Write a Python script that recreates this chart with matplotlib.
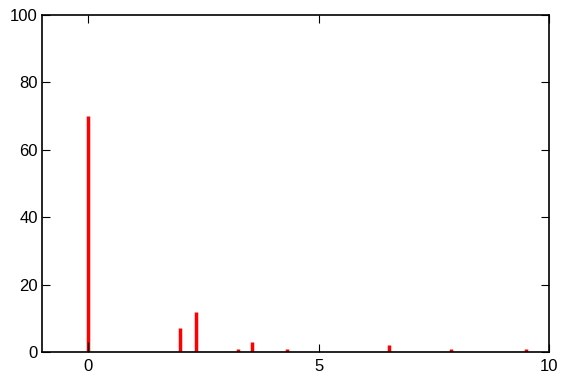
import matplotlib
matplotlib.use("Agg")
import matplotlib.pyplot as plt

plt.rcParams["font.family"] = ["Liberation Sans", "DejaVu Sans"]
plt.rcParams["font.size"] = 12

# stem positions and heights
positions = [0, 2.0, 2.34, 3.26, 3.56, 4.32, 6.53, 7.88, 9.5]
heights = [70, 7, 12, 1, 3, 1, 2, 1, 1]

fig = plt.figure(figsize=(5.61, 3.73), dpi=100)
ax = fig.add_axes([42 / 561, 21 / 373, 507 / 561, 337 / 373])

ax.vlines(positions, 0, heights, colors="red", linewidth=2.5)
ax.plot([min(positions), max(positions)], [0, 0], color="red", linewidth=0.8)
ax.vlines([0], 0, [3], colors="black", linewidth=1)

ax.set_xlim(-1, 10)
ax.set_ylim(0, 100)
ax.set_xticks([0, 5, 10])
ax.set_yticks([0, 20, 40, 60, 80, 100])
ax.tick_params(direction="in", top=True, right=True, length=6, width=0.8)
ax.tick_params(axis="x", pad=5)
ax.tick_params(axis="y", pad=3)
for s in ax.spines.values():
    s.set_linewidth(1.2)

fig.savefig("out.png", dpi=100)
